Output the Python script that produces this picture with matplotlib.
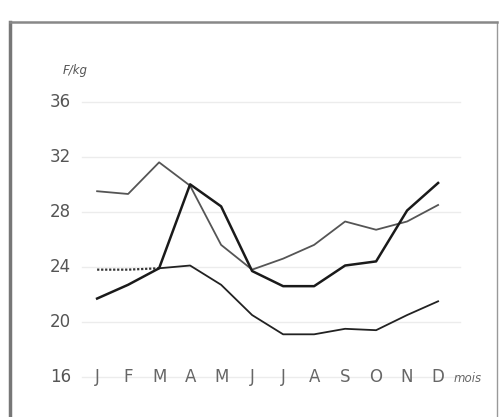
import numpy as np
import matplotlib
matplotlib.use("Agg")
import matplotlib.pyplot as plt

# prix mensuels (F/kg), lecture approximative du graphique
months = ["J", "F", "M", "A", "M", "J", "J", "A", "S", "O", "N", "D"]
serie_haute = [29.5, 29.3, 31.6, 29.9, 25.6, 23.8, 24.6, 25.6, 27.3, 26.7, 27.3, 28.5]
serie_pic = [21.7, 22.7, 23.9, 30.0, 28.4, 23.7, 22.6, 22.6, 24.1, 24.4, 28.1, 30.1]
serie_basse = [23.8, 23.8, 23.9, 24.1, 22.7, 20.5, 19.1, 19.1, 19.5, 19.4, 20.5, 21.5]
yticks = [16, 20, 24, 28, 32, 36]

fig = plt.figure(figsize=(5.01, 4.17), dpi=100)
# axes = the drawn frame (x 10..497 px, y 22..bottom)
ax = fig.add_axes([10 / 501, 0, 487 / 501, 395 / 417])
x = np.arange(len(months))
ax.set_xlim(-2.81, 12.9)
ax.set_ylim(13.09, 41.8)

ax.spines["bottom"].set_visible(False)
ax.spines["left"].set_color("#777777")
ax.spines["left"].set_linewidth(2.5)
ax.spines["top"].set_color("#888888")
ax.spines["top"].set_linewidth(1.8)
ax.spines["right"].set_color("#999999")
ax.spines["right"].set_linewidth(1.0)
ax.set_xticks([])
ax.set_yticks([])

# faint grid lines
for v in yticks:
    ax.plot([-0.5, 11.7], [v, v], color="#ececec", lw=1.0, zorder=1)

ax.plot(x, serie_haute, color="#555555", lw=1.3, zorder=3)
ax.plot(x, serie_pic, color="#1a1a1a", lw=1.8, zorder=4)
ax.plot(x[:3], serie_basse[:3], color="#333333", lw=1.6, ls=(0, (1, 0.8)), zorder=3)
ax.plot(x[2:], serie_basse[2:], color="#222222", lw=1.3, zorder=3)

for v in yticks:
    ax.text(-0.85, v, str(v), ha="right", va="center", fontsize=12, color="#555555")
for i, m in enumerate(months):
    ax.text(i, 16, m, ha="center", va="center", fontsize=12, color="#666666")
ax.text(11.5, 15.9, "mois", ha="left", va="center", fontsize=8.5,
        style="italic", color="#666666")
ax.text(-0.7, 38.3, "F/kg", ha="center", va="center", fontsize=8.5,
        style="italic", color="#555555")

fig.savefig("out.png", dpi=100)
